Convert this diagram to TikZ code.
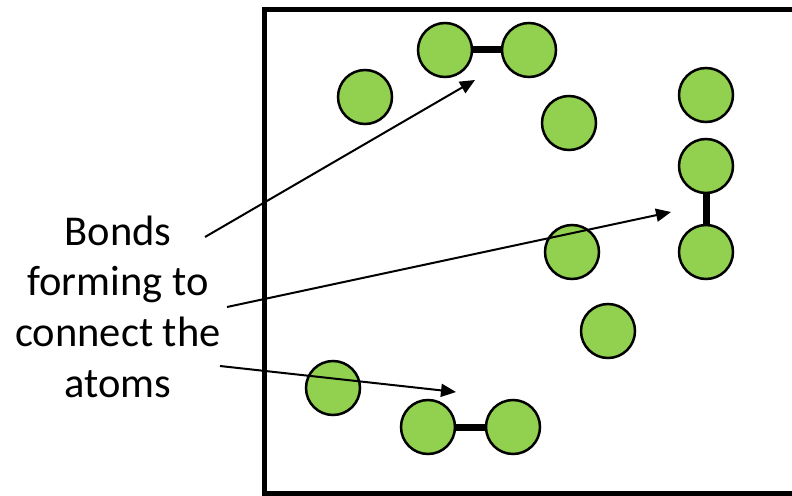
\documentclass[tikz,border=0pt]{standalone}
\usepackage{fontspec}
\setmainfont{Carlito}
\usetikzlibrary{arrows.meta}
\definecolor{atomgreen}{HTML}{92D050}
\begin{document}
\begin{tikzpicture}[x=1pt,y=-1pt,
  atom/.style={circle,draw=black,line width=2.5pt,fill=atomgreen,minimum size=54pt,inner sep=0pt},
  bond/.style={line width=7pt,black},
  pointer/.style={line width=2pt,-{Triangle[length=15pt,width=13pt]}},
  label/.style={anchor=base,inner sep=0pt,font=\fontsize{42.5}{50}\selectfont}]
\useasboundingbox (0,0) rectangle (792,495);
\draw[line width=5pt] (264,9.5) rectangle (810,493);
% atoms
\node[atom] (a1) at (365,97) {};
\node[atom] (a2) at (445,50) {};
\node[atom] (a3) at (529,50) {};
\node[atom] (a4) at (569,123) {};
\node[atom] (a5) at (706,95) {};
\node[atom] (a6) at (706,166) {};
\node[atom] (a7) at (706,252) {};
\node[atom] (a8) at (572,252) {};
\node[atom] (a9) at (608,331) {};
\node[atom] (a10) at (333,388) {};
\node[atom] (a11) at (428,427) {};
\node[atom] (a12) at (513,427) {};
% bonds
\draw[bond] (a2) -- (a3);
\draw[bond] (a6) -- (a7);
\draw[bond] (a11) -- (a12);
% label
\node[label] (l1) at (118,245) {Bonds};
\node[label] (l2) at (118,295.5) {forming to};
\node[label] (l3) at (118,346.5) {connect the};
\node[label] (l4) at (118,397) {atoms};
\coordinate (s1) at (205,237);
\coordinate (s2) at (227,307);
\coordinate (s3) at (220,366);
\coordinate (t1) at (475,80);
\coordinate (t2) at (671,212);
\coordinate (t3) at (456,392);
\draw[pointer] (s1) -- (t1);
\draw[pointer] (s2) -- (t2);
\draw[pointer] (s3) -- (t3);
\end{tikzpicture}
\end{document}
